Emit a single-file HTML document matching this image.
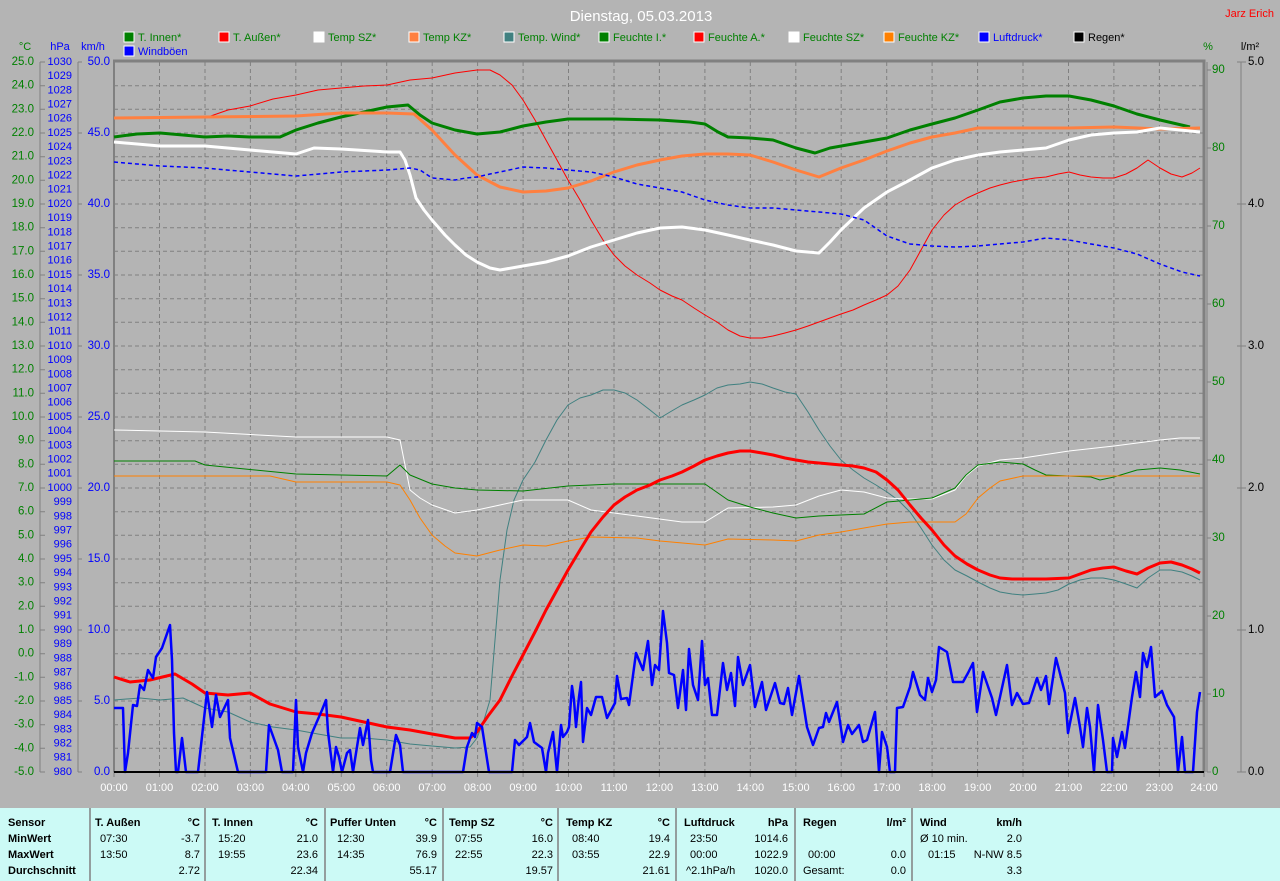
<!DOCTYPE html>
<html><head><meta charset="utf-8"><style>
html,body{margin:0;padding:0;background:#b4b4b4;}
svg{display:block;font-family:"Liberation Sans",sans-serif;}
</style></head><body>
<svg width="1280" height="881" viewBox="0 0 1280 881" xmlns="http://www.w3.org/2000/svg">
<rect width="1280" height="881" fill="#b4b4b4"/>
<text x="641" y="21" font-size="15" fill="#fff" text-anchor="middle">Dienstag, 05.03.2013</text>
<text x="1274" y="17" font-size="11" fill="#f00" text-anchor="end">Jarz Erich</text>
<g font-size="11">
<rect x="124" y="32" width="10" height="10" fill="#008000" stroke="#fff"/><text x="138" y="41" fill="#008000">T. Innen*</text>
<rect x="219" y="32" width="10" height="10" fill="#f00" stroke="#fff"/><text x="233" y="41" fill="#008000">T. Außen*</text>
<rect x="314" y="32" width="10" height="10" fill="#fff" stroke="#fff"/><text x="328" y="41" fill="#008000">Temp SZ*</text>
<rect x="409" y="32" width="10" height="10" fill="#ff8040" stroke="#fff"/><text x="423" y="41" fill="#008000">Temp KZ*</text>
<rect x="504" y="32" width="10" height="10" fill="#408080" stroke="#fff"/><text x="518" y="41" fill="#008000">Temp. Wind*</text>
<rect x="599" y="32" width="10" height="10" fill="#008000" stroke="#fff"/><text x="613" y="41" fill="#008000">Feuchte I.*</text>
<rect x="694" y="32" width="10" height="10" fill="#f00" stroke="#fff"/><text x="708" y="41" fill="#008000">Feuchte A.*</text>
<rect x="789" y="32" width="10" height="10" fill="#fff" stroke="#fff"/><text x="803" y="41" fill="#008000">Feuchte SZ*</text>
<rect x="884" y="32" width="10" height="10" fill="#ff8000" stroke="#fff"/><text x="898" y="41" fill="#008000">Feuchte KZ*</text>
<rect x="979" y="32" width="10" height="10" fill="#00f" stroke="#fff"/><text x="993" y="41" fill="#00f">Luftdruck*</text>
<rect x="1074" y="32" width="10" height="10" fill="#000" stroke="#fff"/><text x="1088" y="41" fill="#000">Regen*</text>
<rect x="124" y="46" width="10" height="10" fill="#00f" stroke="#fff"/><text x="138" y="55" fill="#00f">Windböen</text>
</g>
<g font-size="11">
<text x="25" y="50" fill="#008000" text-anchor="middle">°C</text>
<text x="60" y="50" fill="#00f" text-anchor="middle">hPa</text>
<text x="93" y="50" fill="#00f" text-anchor="middle">km/h</text>
<text x="1208" y="50" fill="#008000" text-anchor="middle">%</text>
<text x="1250" y="50" fill="#000" text-anchor="middle">l/m²</text>
</g>
<g stroke="#808080" stroke-dasharray="4,3" stroke-width="1">
<path d="M114 85.7H1204M114 109.3H1204M114 133H1204M114 156.7H1204M114 180.3H1204M114 204H1204M114 227.7H1204M114 251.3H1204M114 275H1204M114 298.7H1204M114 322.3H1204M114 346H1204M114 369.7H1204M114 393.3H1204M114 417H1204M114 440.7H1204M114 464.3H1204M114 488H1204M114 511.7H1204M114 535.3H1204M114 559H1204M114 582.7H1204M114 606.3H1204M114 630H1204M114 653.7H1204M114 677.3H1204M114 701H1204M114 724.7H1204M114 748.3H1204"/>
<path d="M159.5 62V772M205 62V772M250.4 62V772M295.8 62V772M341.3 62V772M386.7 62V772M432.2 62V772M477.6 62V772M523.1 62V772M568.5 62V772M614 62V772M659.4 62V772M704.9 62V772M750.3 62V772M795.8 62V772M841.2 62V772M886.7 62V772M932.1 62V772M977.6 62V772M1023 62V772M1068.5 62V772M1113.9 62V772M1159.4 62V772"/>
</g>
<g stroke="#808080" fill="none">
<path d="M113 61H1204V772" stroke-width="3"/>
<path d="M114 61V772" stroke-width="2"/>
<path d="M40 62V772M78 62V772M1207 62V772M1241 62V772"/>
</g>
<g stroke="#808080">
<path d="M40 62h5M40 85.7h5M40 109.3h5M40 133h5M40 156.7h5M40 180.3h5M40 204h5M40 227.7h5M40 251.3h5M40 275h5M40 298.7h5M40 322.3h5M40 346h5M40 369.7h5M40 393.3h5M40 417h5M40 440.7h5M40 464.3h5M40 488h5M40 511.7h5M40 535.3h5M40 559h5M40 582.7h5M40 606.3h5M40 630h5M40 653.7h5M40 677.3h5M40 701h5M40 724.7h5M40 748.3h5M40 772h5"/>
<path d="M78 62h4M78 133h4M78 204h4M78 275h4M78 346h4M78 417h4M78 488h4M78 559h4M78 630h4M78 701h4M78 772h4"/>
<path d="M1207 70h4M1207 148h4M1207 226h4M1207 304h4M1207 382h4M1207 460h4M1207 538h4M1207 616h4M1207 694h4M1207 772h4M1237 62h9M1237 204h9M1237 346h9M1237 488h9M1237 630h9M1237 772h9"/>
<path d="M114 772v5M159.5 772v5M205 772v5M250.4 772v5M295.8 772v5M341.3 772v5M386.7 772v5M432.2 772v5M477.6 772v5M523.1 772v5M568.5 772v5M614 772v5M659.4 772v5M704.9 772v5M750.3 772v5M795.8 772v5M841.2 772v5M886.7 772v5M932.1 772v5M977.6 772v5M1023 772v5M1068.5 772v5M1113.9 772v5M1159.4 772v5M1204 772v5"/>
</g>
<g font-size="11.5" fill="#008000" text-anchor="end" dominant-baseline="middle">
<text x="34" y="62">25.0</text><text x="34" y="85.7">24.0</text><text x="34" y="109.3">23.0</text><text x="34" y="133">22.0</text><text x="34" y="156.7">21.0</text><text x="34" y="180.3">20.0</text><text x="34" y="204">19.0</text><text x="34" y="227.7">18.0</text><text x="34" y="251.3">17.0</text><text x="34" y="275">16.0</text><text x="34" y="298.7">15.0</text><text x="34" y="322.3">14.0</text><text x="34" y="346">13.0</text><text x="34" y="369.7">12.0</text><text x="34" y="393.3">11.0</text><text x="34" y="417">10.0</text><text x="34" y="440.7">9.0</text><text x="34" y="464.3">8.0</text><text x="34" y="488">7.0</text><text x="34" y="511.7">6.0</text><text x="34" y="535.3">5.0</text><text x="34" y="559">4.0</text><text x="34" y="582.7">3.0</text><text x="34" y="606.3">2.0</text><text x="34" y="630">1.0</text><text x="34" y="653.7">0.0</text><text x="34" y="677.3">-1.0</text><text x="34" y="701">-2.0</text><text x="34" y="724.7">-3.0</text><text x="34" y="748.3">-4.0</text><text x="34" y="772">-5.0</text>
</g>
<g font-size="11" fill="#00f" text-anchor="end" dominant-baseline="middle">
<text x="72" y="62">1030</text><text x="72" y="76.2">1029</text><text x="72" y="90.4">1028</text><text x="72" y="104.6">1027</text><text x="72" y="118.8">1026</text><text x="72" y="133">1025</text><text x="72" y="147.2">1024</text><text x="72" y="161.4">1023</text><text x="72" y="175.6">1022</text><text x="72" y="189.8">1021</text><text x="72" y="204">1020</text><text x="72" y="218.2">1019</text><text x="72" y="232.4">1018</text><text x="72" y="246.6">1017</text><text x="72" y="260.8">1016</text><text x="72" y="275">1015</text><text x="72" y="289.2">1014</text><text x="72" y="303.4">1013</text><text x="72" y="317.6">1012</text><text x="72" y="331.8">1011</text><text x="72" y="346">1010</text><text x="72" y="360.2">1009</text><text x="72" y="374.4">1008</text><text x="72" y="388.6">1007</text><text x="72" y="402.8">1006</text><text x="72" y="417">1005</text><text x="72" y="431.2">1004</text><text x="72" y="445.4">1003</text><text x="72" y="459.6">1002</text><text x="72" y="473.8">1001</text><text x="72" y="488">1000</text><text x="72" y="502.2">999</text><text x="72" y="516.4">998</text><text x="72" y="530.6">997</text><text x="72" y="544.8">996</text><text x="72" y="559">995</text><text x="72" y="573.2">994</text><text x="72" y="587.4">993</text><text x="72" y="601.6">992</text><text x="72" y="615.8">991</text><text x="72" y="630">990</text><text x="72" y="644.2">989</text><text x="72" y="658.4">988</text><text x="72" y="672.6">987</text><text x="72" y="686.8">986</text><text x="72" y="701">985</text><text x="72" y="715.2">984</text><text x="72" y="729.4">983</text><text x="72" y="743.6">982</text><text x="72" y="757.8">981</text><text x="72" y="772">980</text>
</g>
<g font-size="11.5" fill="#00f" text-anchor="end" dominant-baseline="middle">
<text x="110" y="62">50.0</text><text x="110" y="133">45.0</text><text x="110" y="204">40.0</text><text x="110" y="275">35.0</text><text x="110" y="346">30.0</text><text x="110" y="417">25.0</text><text x="110" y="488">20.0</text><text x="110" y="559">15.0</text><text x="110" y="630">10.0</text><text x="110" y="701">5.0</text><text x="110" y="772">0.0</text>
</g>
<g font-size="11.5" fill="#008000" dominant-baseline="middle">
<text x="1212" y="70">90</text><text x="1212" y="148">80</text><text x="1212" y="226">70</text><text x="1212" y="304">60</text><text x="1212" y="382">50</text><text x="1212" y="460">40</text><text x="1212" y="538">30</text><text x="1212" y="616">20</text><text x="1212" y="694">10</text><text x="1212" y="772">0</text>
</g>
<g font-size="11.5" fill="#000" dominant-baseline="middle">
<text x="1248" y="62">5.0</text><text x="1248" y="204">4.0</text><text x="1248" y="346">3.0</text><text x="1248" y="488">2.0</text><text x="1248" y="630">1.0</text><text x="1248" y="772">0.0</text>
</g>
<g font-size="11" fill="#fff" text-anchor="middle">
<text x="114" y="791">00:00</text><text x="159.5" y="791">01:00</text><text x="205" y="791">02:00</text><text x="250.4" y="791">03:00</text><text x="295.8" y="791">04:00</text><text x="341.3" y="791">05:00</text><text x="386.7" y="791">06:00</text><text x="432.2" y="791">07:00</text><text x="477.6" y="791">08:00</text><text x="523.1" y="791">09:00</text><text x="568.5" y="791">10:00</text><text x="614" y="791">11:00</text><text x="659.4" y="791">12:00</text><text x="704.9" y="791">13:00</text><text x="750.3" y="791">14:00</text><text x="795.8" y="791">15:00</text><text x="841.2" y="791">16:00</text><text x="886.7" y="791">17:00</text><text x="932.1" y="791">18:00</text><text x="977.6" y="791">19:00</text><text x="1023" y="791">20:00</text><text x="1068.5" y="791">21:00</text><text x="1113.9" y="791">22:00</text><text x="1159.4" y="791">23:00</text><text x="1204" y="791">24:00</text>
</g>
<g fill="none" stroke-linejoin="round">
<polyline stroke="#f00" stroke-width="1" points="114,118 160,118 205,118 228,110 250,106 273,99 296,95 318,90 341,88 364,86 387,85 410,80 432,78 455,73 477,70 490,70 500,75 512,85 523,100 535,120 546,140 557,160 568,180 580,200 591,220 603,240 614,255 625,266 637,275 650,283 660,290 672,296 682,300 694,308 705,315 717,322 728,330 740,336 750,338 762,338 773,336 785,333 796,330 808,326 819,322 830,318 841,314 853,310 864,305 876,300 887,295 898,286 910,270 921,250 932,230 944,215 955,205 967,198 978,193 990,188 1000,185 1012,182 1023,180 1035,178 1046,177 1058,174 1069,172 1080,175 1091,177 1103,178 1114,178 1126,174 1137,168 1148,160 1160,168 1171,174 1182,177 1192,173 1200,168"/>
<polyline stroke="#008000" stroke-width="3" points="114,137 137,134 160,133 183,135 205,137 228,136 250,137 280,137 296,130 318,123 341,117 364,112 387,107 408,105 420,115 432,123 455,130 477,134 500,132 523,126 546,122 568,119 614,119 660,120 690,122 705,124 718,132 728,137 750,138 773,140 796,148 815,153 830,148 864,142 887,138 910,130 932,124 955,118 978,110 1000,102 1023,98 1046,96 1069,96 1091,100 1114,106 1137,114 1160,120 1190,127"/>
<polyline stroke="#ff8040" stroke-width="3" points="114,118 205,117 296,116 341,113 387,113 414,114 432,130 455,155 477,175 500,187 523,192 546,191 568,188 591,181 614,172 637,165 660,160 682,156 705,154 728,154 750,155 773,162 796,170 819,177 841,168 864,160 887,151 910,143 932,137 955,133 978,128 1023,128 1069,128 1114,127 1160,129 1200,128"/>
<polyline stroke="#fff" stroke-width="3" points="114,142 160,146 205,146 250,150 296,154 314,148 341,149 387,152 400,152 405,160 410,175 416,198 424,210 432,220 445,235 455,245 466,255 477,262 490,268 500,270 523,266 546,262 568,256 591,247 614,240 637,233 660,228 682,227 705,230 728,235 750,240 773,245 796,251 819,253 830,242 841,230 864,208 887,192 910,180 932,168 955,160 978,155 1000,152 1023,150 1046,148 1069,140 1091,135 1114,133 1137,132 1160,128 1180,130 1200,132"/>
<polyline stroke="#00f" stroke-width="1.5" stroke-dasharray="4,3" points="114,162 160,166 205,168 250,172 296,176 341,172 387,170 410,168 420,170 432,178 455,180 466,178 477,177 490,174 500,172 523,167 546,168 568,170 591,172 614,177 637,184 660,188 682,192 705,200 728,205 750,208 773,208 796,210 819,212 841,214 864,220 887,236 910,244 932,246 955,247 978,246 1000,244 1023,242 1046,238 1069,240 1091,244 1114,248 1137,254 1160,264 1182,272 1200,276"/>
<polyline stroke="#408080" stroke-width="1" points="114,700 140,698 160,700 183,698 205,708 228,712 250,722 273,727 296,730 318,734 341,738 364,738 387,740 410,744 432,746 455,748 470,747 477,738 484,720 490,700 495,640 500,580 507,530 514,500 523,480 535,462 546,440 557,420 568,405 580,398 591,395 603,390 614,390 625,393 637,400 650,410 660,418 670,412 682,405 694,400 705,395 717,388 728,385 740,384 750,382 762,384 773,388 785,392 796,394 808,412 819,430 830,446 841,460 853,470 864,478 876,485 887,492 898,500 910,512 921,528 932,545 944,560 955,570 967,576 978,582 990,588 1000,592 1012,594 1023,595 1035,594 1046,593 1058,590 1069,584 1080,580 1091,578 1103,578 1114,580 1126,584 1137,588 1148,578 1160,570 1171,570 1182,572 1192,576 1200,580"/>
<polyline stroke="#fff" stroke-width="1" points="114,430 205,432 296,437 387,437 400,440 405,465 410,490 420,498 432,505 455,513 477,510 500,505 523,500 568,500 591,510 637,516 682,522 705,522 728,508 773,507 796,505 819,496 841,490 864,492 887,498 910,499 932,499 955,490 966,476 978,466 1000,460 1023,458 1069,451 1114,446 1160,440 1180,438 1200,438"/>
<polyline stroke="#008000" stroke-width="1" points="114,461 195,461 205,465 296,474 387,476 400,465 410,475 432,484 455,488 477,490 523,491 568,486 614,484 705,484 728,500 750,507 773,513 796,518 819,516 841,515 864,514 887,502 932,498 955,488 966,475 978,465 1000,462 1023,464 1035,470 1046,475 1091,477 1100,480 1114,477 1137,470 1160,468 1180,470 1200,474"/>
<polyline stroke="#ff8000" stroke-width="1" points="114,476 270,476 296,482 387,482 400,485 410,500 420,518 432,535 445,546 455,553 477,556 500,550 523,545 546,546 568,541 591,537 637,538 660,541 705,545 728,539 773,540 796,541 819,535 841,532 864,528 887,524 910,522 955,522 966,514 978,498 990,488 1000,481 1023,476 1200,476"/>
<polyline stroke="#f00" stroke-width="3" points="114,677 130,682 150,680 175,674 192,684 205,693 228,695 250,693 270,704 296,712 318,714 341,717 364,722 387,727 410,730 432,734 455,738 470,738 477,732 488,716 500,700 512,676 523,655 535,632 546,610 557,590 568,570 580,550 591,532 603,517 614,505 625,497 637,490 650,485 660,480 672,476 682,472 694,466 705,460 717,456 728,453 740,451 750,451 762,453 773,455 785,458 796,460 808,462 819,463 830,464 841,465 853,466 864,468 876,472 887,480 898,490 910,505 921,518 932,530 944,545 955,556 967,564 978,570 990,575 1000,578 1012,579 1023,579 1046,579 1069,578 1080,574 1091,570 1103,568 1114,567 1126,571 1137,574 1148,568 1160,563 1171,562 1182,565 1192,569 1200,573"/>
<polyline stroke="#00f" stroke-width="2.5" points="114,708 123,708 125,772 128,753 133,705 137,706 140,685 144,690 148,670 153,678 156,657 162,648 170,625 172,660 174,733 176,772 178,772 182,738 186,772 198,772 207,692 212,727 216,695 220,717 228,700 230,738 238,772 266,772 269,725 278,750 282,772 293,772 296,700 298,747 303,772 306,753 312,733 322,710 326,700 328,732 333,772 336,747 339,757 342,772 347,753 350,750 353,772 360,728 363,745 368,720 371,760 373,772 390,772 396,735 400,745 403,772 463,772 467,747 472,733 475,737 477,723 482,727 489,772 512,772 515,740 519,745 527,737 530,723 534,742 542,748 546,772 548,753 553,732 557,772 561,725 563,737 567,732 569,727 572,686 574,700 576,727 579,697 581,682 583,742 587,708 591,715 596,697 602,697 607,718 615,703 617,676 621,699 627,698 629,705 636,653 643,670 648,641 652,685 655,665 659,670 663,611 667,643 669,673 674,675 678,708 683,670 686,710 689,649 693,685 698,700 702,641 705,685 708,678 712,715 717,715 723,663 727,690 731,673 735,706 738,657 743,685 750,665 755,707 762,682 766,710 775,683 780,703 784,704 788,688 792,715 799,676 807,727 813,745 819,728 823,727 826,713 829,722 837,702 843,742 848,725 852,734 859,725 863,742 867,740 875,712 878,757 879,772 882,732 887,747 890,772 895,772 897,708 903,707 910,687 913,672 920,695 925,700 928,678 932,692 936,680 939,647 947,652 953,682 963,682 968,673 973,663 977,712 983,672 992,698 996,715 1000,697 1007,665 1012,705 1017,693 1023,704 1029,703 1037,678 1041,690 1046,676 1049,704 1056,658 1065,693 1068,733 1075,698 1080,727 1083,747 1087,708 1090,727 1094,772 1098,705 1103,740 1107,772 1112,772 1113,738 1117,757 1122,732 1125,748 1132,697 1136,672 1140,697 1143,653 1147,667 1151,647 1155,697 1162,691 1167,705 1174,717 1178,772 1182,737 1185,772 1193,772 1197,712 1200,692"/>
</g>
<path d="M114 772H1204" stroke="#000" stroke-width="2"/>
<rect x="0" y="808" width="1280" height="73" fill="#ccfaf6"/>
<g stroke="#808080" stroke-width="1.5"><path d="M90 808V881M205 808V881M325 808V881M443 808V881M558 808V881M676 808V881M795 808V881M912 808V881"/></g>
<g font-size="11" fill="#000">
<g font-weight="bold">
<text x="8" y="826">Sensor</text><text x="8" y="842">MinWert</text><text x="8" y="858">MaxWert</text><text x="8" y="874">Durchschnitt</text>
<text x="95" y="826">T. Außen</text><text x="200" y="826" text-anchor="end">°C</text>
<text x="212" y="826">T. Innen</text><text x="318" y="826" text-anchor="end">°C</text>
<text x="330" y="826">Puffer Unten</text><text x="437" y="826" text-anchor="end">°C</text>
<text x="449" y="826">Temp SZ</text><text x="553" y="826" text-anchor="end">°C</text>
<text x="566" y="826">Temp KZ</text><text x="670" y="826" text-anchor="end">°C</text>
<text x="684" y="826">Luftdruck</text><text x="788" y="826" text-anchor="end">hPa</text>
<text x="803" y="826">Regen</text><text x="906" y="826" text-anchor="end">l/m²</text>
<text x="920" y="826">Wind</text><text x="1022" y="826" text-anchor="end">km/h</text>
</g>
<text x="100" y="842">07:30</text><text x="200" y="842" text-anchor="end">-3.7</text>
<text x="100" y="858">13:50</text><text x="200" y="858" text-anchor="end">8.7</text>
<text x="200" y="874" text-anchor="end">2.72</text>
<text x="218" y="842">15:20</text><text x="318" y="842" text-anchor="end">21.0</text>
<text x="218" y="858">19:55</text><text x="318" y="858" text-anchor="end">23.6</text>
<text x="318" y="874" text-anchor="end">22.34</text>
<text x="337" y="842">12:30</text><text x="437" y="842" text-anchor="end">39.9</text>
<text x="337" y="858">14:35</text><text x="437" y="858" text-anchor="end">76.9</text>
<text x="437" y="874" text-anchor="end">55.17</text>
<text x="455" y="842">07:55</text><text x="553" y="842" text-anchor="end">16.0</text>
<text x="455" y="858">22:55</text><text x="553" y="858" text-anchor="end">22.3</text>
<text x="553" y="874" text-anchor="end">19.57</text>
<text x="572" y="842">08:40</text><text x="670" y="842" text-anchor="end">19.4</text>
<text x="572" y="858">03:55</text><text x="670" y="858" text-anchor="end">22.9</text>
<text x="670" y="874" text-anchor="end">21.61</text>
<text x="690" y="842">23:50</text><text x="788" y="842" text-anchor="end">1014.6</text>
<text x="690" y="858">00:00</text><text x="788" y="858" text-anchor="end">1022.9</text>
<text x="686" y="874">^2.1hPa/h</text><text x="788" y="874" text-anchor="end">1020.0</text>
<text x="808" y="858">00:00</text><text x="906" y="858" text-anchor="end">0.0</text>
<text x="803" y="874">Gesamt:</text><text x="906" y="874" text-anchor="end">0.0</text>
<text x="920" y="842">Ø 10 min.</text><text x="1022" y="842" text-anchor="end">2.0</text>
<text x="928" y="858">01:15</text><text x="1022" y="858" text-anchor="end">N-NW 8.5</text>
<text x="1022" y="874" text-anchor="end">3.3</text>
</g>
</svg>
</body></html>
